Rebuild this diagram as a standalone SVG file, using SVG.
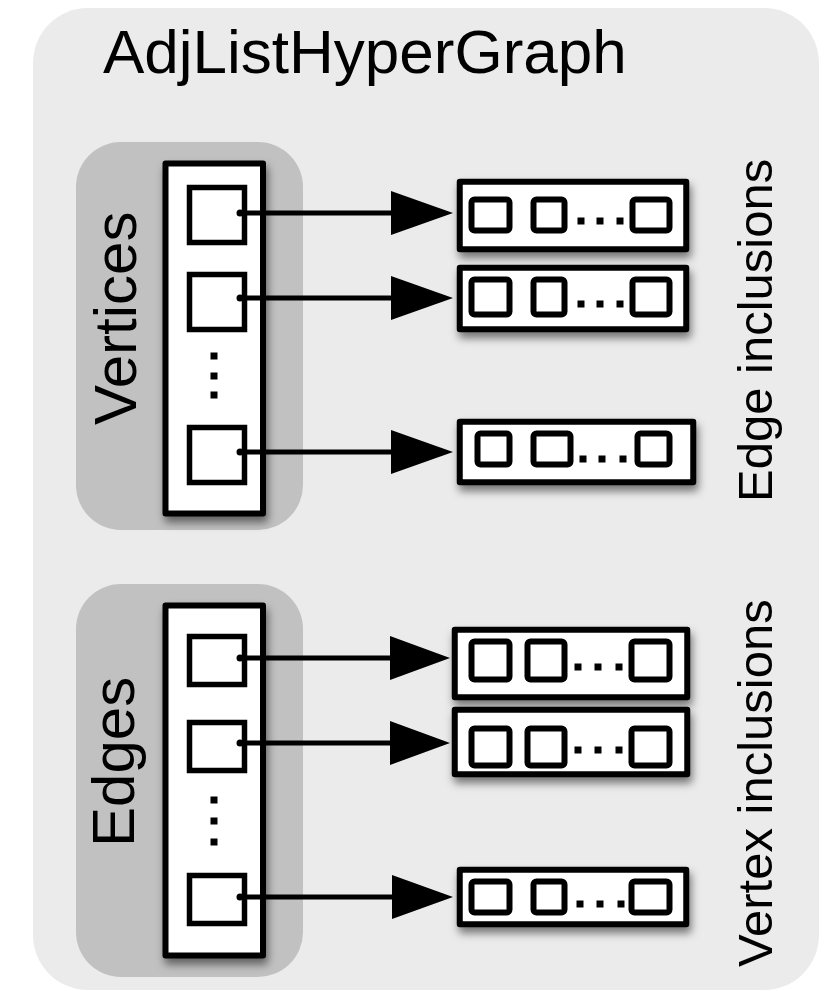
<svg xmlns="http://www.w3.org/2000/svg" width="827" height="991" viewBox="0 0 827 991">
<defs>
<filter id="sh" x="-20%" y="-20%" width="140%" height="160%">
<feDropShadow dx="2" dy="6" stdDeviation="4" flood-color="#000" flood-opacity="0.5"/>
</filter>
</defs>
<style>
text{font-family:"Liberation Sans",Arial,Helvetica,sans-serif;fill:#000}
.panel{fill:#ebebeb}
.grp{fill:#c1c1c2}
.col{fill:#fff;stroke:#000;stroke-width:6;stroke-linejoin:round;filter:url(#sh)}
.box{fill:#fff;stroke:#000;stroke-width:6;stroke-linejoin:round;filter:url(#sh)}
.sq{fill:#fff;stroke:#000;stroke-width:5.5}
.cell{fill:#fff;stroke:#000;stroke-width:6;rx:3}
.dot{fill:#000}
.ln{stroke:#000;stroke-width:5;fill:none}
.ah{fill:#000}
.lbl{font-size:60px}
.rl{font-size:49px}
</style>
<rect class="panel" x="33" y="8" width="786" height="982" rx="55" ry="55"/>
<text x="103" y="73" style="font-size:62px">AdjListHyperGraph</text>

<g id="vertices">
<rect class="grp" x="76" y="142" width="227" height="388" rx="45"/>
<text class="lbl" transform="translate(136,425) rotate(-90)">Vertices</text>
<rect class="col" x="165.5" y="163.5" width="97.5" height="350"/>
<rect class="sq" x="189.5" y="187.5" width="55" height="55"/>
<rect class="sq" x="189.5" y="274.5" width="55" height="55"/>
<rect class="sq" x="189.5" y="427.5" width="55" height="55"/>
<rect class="dot" x="210.5" y="352.5" width="7" height="7"/>
<rect class="dot" x="210.5" y="372.5" width="7" height="7"/>
<rect class="dot" x="210.5" y="391.5" width="7" height="7"/>
</g>

<g id="edges">
<rect class="grp" x="76" y="584" width="227" height="393" rx="45"/>
<text class="lbl" transform="translate(134,847) rotate(-90)">Edges</text>
<rect class="col" x="165.5" y="605.5" width="97.5" height="350"/>
<rect class="sq" x="189.5" y="636.5" width="55" height="48"/>
<rect class="sq" x="189.5" y="722.5" width="55" height="48"/>
<rect class="sq" x="189.5" y="875.5" width="55" height="48"/>
<rect class="dot" x="210.5" y="796.5" width="7" height="7"/>
<rect class="dot" x="210.5" y="817.5" width="7" height="7"/>
<rect class="dot" x="210.5" y="838.5" width="7" height="7"/>
</g>

<g id="edge-inclusions-1">
<rect class="box" x="459.75" y="181.75" width="226.5" height="67.5"/>
<rect class="cell" x="471.5" y="199.5" width="38" height="31"/>
<rect class="cell" x="533.5" y="199.5" width="31" height="31"/>
<rect class="cell" x="632.5" y="199.5" width="37" height="31"/>
<rect class="dot" x="577.5" y="217.5" width="7" height="7"/>
<rect class="dot" x="596.5" y="217.5" width="7" height="7"/>
<rect class="dot" x="616.5" y="217.5" width="7" height="7"/>
</g>
<g id="edge-inclusions-2">
<rect class="box" x="459.75" y="267.75" width="226.5" height="61.5"/>
<rect class="cell" x="471.5" y="279.5" width="38" height="35"/>
<rect class="cell" x="533.5" y="279.5" width="31" height="35"/>
<rect class="cell" x="632.5" y="279.5" width="37" height="35"/>
<rect class="dot" x="577.5" y="300.5" width="7" height="7"/>
<rect class="dot" x="596.5" y="300.5" width="7" height="7"/>
<rect class="dot" x="616.5" y="300.5" width="7" height="7"/>
</g>
<g id="edge-inclusions-3">
<rect class="box" x="459.75" y="421.75" width="233.5" height="60.5"/>
<rect class="cell" x="477.5" y="433.5" width="32" height="31"/>
<rect class="cell" x="533.5" y="433.5" width="37" height="31"/>
<rect class="cell" x="637.5" y="433.5" width="32" height="31"/>
<rect class="dot" x="579.5" y="455.5" width="7" height="7"/>
<rect class="dot" x="598.5" y="455.5" width="7" height="7"/>
<rect class="dot" x="619.5" y="455.5" width="7" height="7"/>
</g>
<text class="rl" transform="translate(772,502) rotate(-90)">Edge inclusions</text>

<g id="vertex-inclusions-1">
<rect class="box" x="454.75" y="629.75" width="232.5" height="67.5"/>
<rect class="cell" x="471.5" y="641.5" width="38" height="38"/>
<rect class="cell" x="527.5" y="641.5" width="37" height="38"/>
<rect class="cell" x="631.5" y="641.5" width="38" height="38"/>
<rect class="dot" x="574.5" y="663.5" width="7" height="7"/>
<rect class="dot" x="594.5" y="663.5" width="7" height="7"/>
<rect class="dot" x="615.5" y="663.5" width="7" height="7"/>
</g>
<g id="vertex-inclusions-2">
<rect class="box" x="454.75" y="709.75" width="232.5" height="64.5"/>
<rect class="cell" x="471.5" y="728.5" width="38" height="37"/>
<rect class="cell" x="527.5" y="728.5" width="37" height="37"/>
<rect class="cell" x="631.5" y="728.5" width="38" height="37"/>
<rect class="dot" x="574.5" y="746.5" width="7" height="7"/>
<rect class="dot" x="594.5" y="746.5" width="7" height="7"/>
<rect class="dot" x="615.5" y="746.5" width="7" height="7"/>
</g>
<g id="vertex-inclusions-3">
<rect class="box" x="459.75" y="869.75" width="226.5" height="54.5"/>
<rect class="cell" x="471.5" y="881.5" width="38" height="31"/>
<rect class="cell" x="533.5" y="881.5" width="31" height="31"/>
<rect class="cell" x="631.5" y="881.5" width="38" height="31"/>
<rect class="dot" x="576.5" y="900.5" width="7" height="7"/>
<rect class="dot" x="596.5" y="900.5" width="7" height="7"/>
<rect class="dot" x="617.5" y="900.5" width="7" height="7"/>
</g>
<text class="rl" transform="translate(772,967) rotate(-90)">Vertex inclusions</text>

<g id="connectors">
<circle class="dot" cx="240" cy="213" r="3.5"/>
<line class="ln" x1="240" y1="213" x2="395" y2="213"/>
<polygon class="ah" points="391,191 453,213 391,235"/>
<circle class="dot" cx="240" cy="298" r="3.5"/>
<line class="ln" x1="240" y1="298" x2="395" y2="298"/>
<polygon class="ah" points="391,276 453,298 391,320"/>
<circle class="dot" cx="240" cy="452" r="3.5"/>
<line class="ln" x1="240" y1="452" x2="395" y2="452"/>
<polygon class="ah" points="391,430 453,452 391,474"/>
<circle class="dot" cx="240" cy="658" r="3.5"/>
<line class="ln" x1="240" y1="658" x2="395" y2="658"/>
<polygon class="ah" points="390,636 450,658 390,680"/>
<circle class="dot" cx="240" cy="743" r="3.5"/>
<line class="ln" x1="240" y1="743" x2="395" y2="743"/>
<polygon class="ah" points="390,721 450,743 390,765"/>
<circle class="dot" cx="240" cy="897" r="3.5"/>
<line class="ln" x1="240" y1="897" x2="395" y2="897"/>
<polygon class="ah" points="392,875 453,897 392,919"/>
</g>
</svg>
